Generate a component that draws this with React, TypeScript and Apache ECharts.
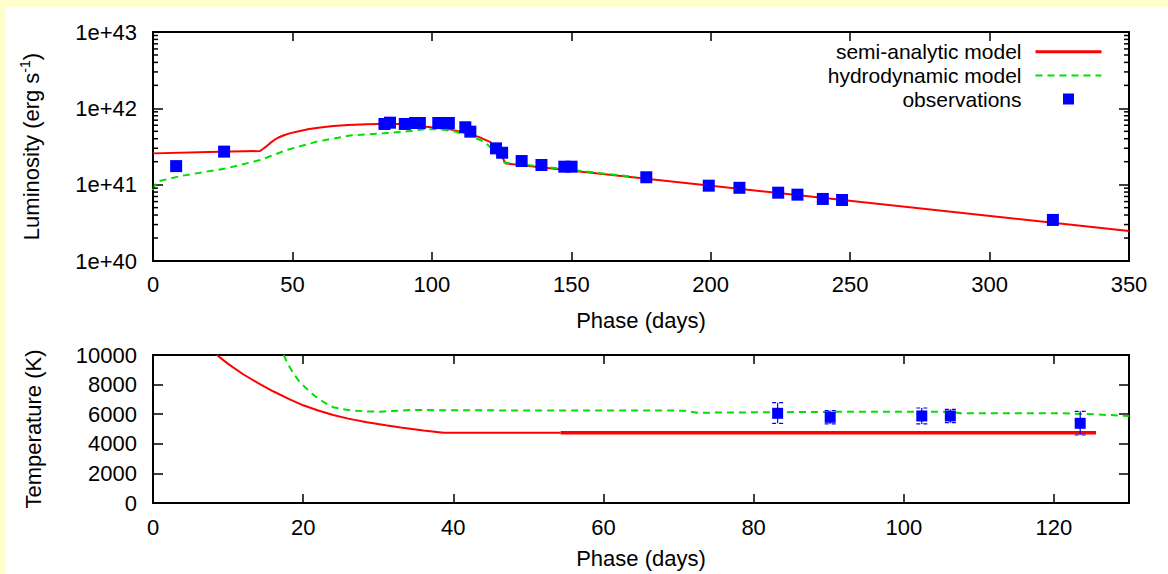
import React, { useEffect, useRef } from "react";
import * as echarts from "echarts";

// ---------- Luminosity panel (top) ----------
const lumObsDays = [8.3, 25.5, 83.0, 85.0, 90.3, 94.0, 95.7, 102.3, 106.1, 112.0, 113.8, 123.0, 125.2, 132.2, 139.3, 147.5, 150.1, 176.9, 199.3, 210.3, 224.2, 231.1, 240.2, 247.1, 322.7];
const lumObsValues = [1.75e41, 2.71e41, 6.24e41, 6.49e41, 6.24e41, 6.43e41, 6.43e41, 6.43e41, 6.43e41, 5.65e41, 4.95e41, 2.99e41, 2.62e41, 2.04e41, 1.81e41, 1.72e41, 1.72e41, 1.25e41, 9.7e40, 9.1e40, 7.85e40, 7.4e40, 6.5e40, 6.3e40, 3.45e40];

const semiLumDays = [0, 20, 38.4, 39.5, 40.8, 42, 43.5, 45, 46.7, 49, 52.7, 56, 60, 64.7, 70, 76.6, 85, 92, 98, 106.5, 112, 117, 121, 123.5, 125.5, 126.5, 350];
const semiLumValues = [2.57e41, 2.67e41, 2.76e41, 2.95e41, 3.2e41, 3.5e41, 3.85e41, 4.15e41, 4.4e41, 4.7e41, 5.05e41, 5.35e41, 5.6e41, 5.85e41, 6.05e41, 6.2e41, 6.3e41, 6.15e41, 5.75e41, 5.3e41, 4.8e41, 4.2e41, 3.6e41, 2.9e41, 2.2e41, 1.9e41, 2.47e40];

const hydroLumDays = [0, 0.8, 1.5, 10, 26.4, 38.4, 48, 58.7, 70.6, 82.6, 90, 98, 103, 108, 112.5, 118.5, 121, 123.5, 126, 140, 160, 173];
const hydroLumValues = [8.5e40, 1.0e41, 1.1e41, 1.3e41, 1.64e41, 2.1e41, 2.85e41, 3.66e41, 4.4e41, 4.7e41, 4.95e41, 5.35e41, 5.3e41, 5.0e41, 4.5e41, 3.7e41, 3.1e41, 2.5e41, 1.95e41, 1.72e41, 1.42e41, 1.26e41];

const lumMinorTicks = [2e40, 3e40, 4e40, 5e40, 6e40, 7e40, 8e40, 9e40, 2e41, 3e41, 4e41, 5e41, 6e41, 7e41, 8e41, 9e41, 2e42, 3e42, 4e42, 5e42, 6e42, 7e42, 8e42, 9e42];

// ---------- Temperature panel (bottom) ----------
const semiTempDays = [8.5, 10, 12, 14, 16, 18, 20, 22, 24, 26, 28.5, 31, 33, 36, 38.7, 54.3];
const semiTempValues = [10000, 9400, 8700, 8100, 7550, 7050, 6600, 6250, 5950, 5700, 5450, 5250, 5100, 4900, 4750, 4750];
const semiTempPlateauDays = [54.3, 125.6];
const semiTempPlateauValues = [4750, 4750];

const hydroTempDays = [17.4, 18, 18.7, 19.5, 20.5, 21.5, 22.3, 23.2, 24, 25.3, 26.7, 28.5, 30.3, 32, 34.3, 50, 66, 70.8, 72.5, 81.4, 94.3, 105.8, 107.6, 121, 125.4, 130];
const hydroTempValues = [10000, 9350, 8760, 8200, 7700, 7250, 6960, 6680, 6470, 6330, 6240, 6190, 6170, 6220, 6280, 6250, 6250, 6240, 6100, 6130, 6170, 6170, 6060, 6060, 5990, 5880];

const tempObsDays = [83.2, 90.2, 102.4, 106.2, 123.5];
const tempObsValues = [6060, 5790, 5880, 5880, 5385];
const tempObsLow = [5385, 5340, 5340, 5425, 4595];
const tempObsHigh = [6777, 6240, 6420, 6330, 6193];

const FONT = '"Liberation Sans", Arial, Helvetica, sans-serif';
const RED = "#ff0000";
const GREEN = "#00e000";
const BLUE = "#0000ff";

const zip = (a: number[], b: number[]) => a.map((x, i) => [x, b[i]]);

export default function App() {
  const ref = useRef<HTMLDivElement>(null);

  useEffect(() => {
    const chart = echarts.init(ref.current as HTMLDivElement, null, { renderer: "svg" });

    const axisLine = { show: true, onZero: false, lineStyle: { color: "#000", width: 2 } };
    const tick = (len: number) => ({ show: true, inside: true, length: len, lineStyle: { color: "#000", width: 1.5 } });
    const labelBase = { color: "#000", fontSize: 22, fontFamily: FONT };
    const nameStyle = { color: "#000", fontSize: 22, fontFamily: FONT };

    const option: any = {
      animation: false,
      backgroundColor: "#ffffff",
      textStyle: { fontFamily: FONT },
      grid: [
        { left: 147, top: 25, width: 976, height: 229 },
        { left: 147, top: 348, width: 976, height: 148 },
      ],
      legend: {
        orient: "vertical",
        right: 65,
        top: 33,
        padding: 0,
        align: "right",
        itemWidth: 66,
        itemHeight: 11,
        itemGap: 0,
        symbolKeepAspect: true,
        textStyle: { color: "#000", fontSize: 21, lineHeight: 23.6, fontFamily: FONT, padding: [0, 9, 0, 0] },
        data: [
          { name: "semi-analytic model", lineStyle: { width: 3 }, itemStyle: { opacity: 0 } },
          { name: "hydrodynamic model", lineStyle: { width: 2 }, itemStyle: { opacity: 0 } },
          { name: "observations", icon: "path://M0,0h10v10h-10z", symbolKeepAspect: true, itemStyle: { color: BLUE, opacity: 1 } },
        ],
      },
      xAxis: [
        {
          gridIndex: 0, type: "value", min: 0, max: 350, interval: 50, position: "bottom",
          axisLine, axisTick: tick(9), splitLine: { show: false },
          axisLabel: { ...labelBase, margin: 12 },
          name: "Phase (days)", nameLocation: "middle", nameGap: 48, nameTextStyle: nameStyle,
        },
        {
          gridIndex: 0, type: "value", min: 0, max: 350, interval: 50, position: "top",
          axisLine, axisTick: tick(9), splitLine: { show: false }, axisLabel: { show: false },
        },
        {
          gridIndex: 1, type: "value", min: 0, max: 130, interval: 20, position: "bottom",
          axisLine, axisTick: tick(9), splitLine: { show: false },
          axisLabel: { ...labelBase, margin: 13, showMaxLabel: false },
          name: "Phase (days)", nameLocation: "middle", nameGap: 44, nameTextStyle: nameStyle,
        },
        {
          gridIndex: 1, type: "value", min: 0, max: 130, interval: 20, position: "top",
          axisLine, axisTick: tick(9), splitLine: { show: false }, axisLabel: { show: false },
        },
      ],
      yAxis: [
        {
          gridIndex: 0, type: "log", logBase: 10, min: 1e40, max: 1e43, position: "left",
          axisLine, axisTick: tick(10), splitLine: { show: false },
          axisLabel: { ...labelBase, margin: 16, formatter: (v: number) => "1e+" + Math.round(Math.log10(v)) },
          name: "{a|Luminosity (erg s}{b|-1}{a|)}", nameLocation: "middle", nameGap: 109,
          nameTextStyle: {
            ...nameStyle,
            rich: {
              a: { fontSize: 22, fontFamily: FONT, color: "#000", lineHeight: 26 },
              b: { fontSize: 14, fontFamily: FONT, color: "#000", lineHeight: 14, verticalAlign: "top" },
            },
          },
        },
        {
          gridIndex: 0, type: "log", logBase: 10, min: 1e40, max: 1e43, position: "right",
          axisLine, axisTick: tick(10), splitLine: { show: false }, axisLabel: { show: false },
        },
        {
          gridIndex: 1, type: "value", min: 0, max: 10000, interval: 2000, position: "left",
          axisLine, axisTick: tick(10), splitLine: { show: false },
          axisLabel: { ...labelBase, margin: 16, formatter: (v: number) => String(v) },
          name: "Temperature (K)", nameLocation: "middle", nameGap: 109, nameTextStyle: nameStyle,
        },
        {
          gridIndex: 1, type: "value", min: 0, max: 10000, interval: 2000, position: "right",
          axisLine, axisTick: tick(10), splitLine: { show: false }, axisLabel: { show: false },
        },
      ],
      series: [
        {
          name: "semi-analytic model", type: "line", xAxisIndex: 0, yAxisIndex: 0,
          data: zip(semiLumDays, semiLumValues), symbol: "none",
          lineStyle: { color: RED, width: 2 }, itemStyle: { color: RED }, z: 2,
        },
        {
          name: "hydrodynamic model", type: "line", xAxisIndex: 0, yAxisIndex: 0,
          data: zip(hydroLumDays, hydroLumValues), symbol: "none",
          lineStyle: { color: GREEN, width: 2, type: [7, 5] }, itemStyle: { color: GREEN }, z: 3,
        },
        {
          name: "observations", type: "scatter", xAxisIndex: 0, yAxisIndex: 0,
          data: zip(lumObsDays, lumObsValues), symbol: "rect", symbolSize: 12, symbolKeepAspect: true,
          itemStyle: { color: BLUE, opacity: 1 }, z: 4,
        },
        {
          name: "minor ticks", type: "custom", xAxisIndex: 0, yAxisIndex: 0, silent: true, z: 5,
          data: lumMinorTicks.map((v) => [0, v]),
          encode: { x: 0, y: 1 },
          renderItem: (params: any, api: any) => {
            const y = api.coord([0, api.value(1)])[1];
            const cs = params.coordSys;
            const style = { stroke: "#000", lineWidth: 1.5 };
            return {
              type: "group",
              children: [
                { type: "line", shape: { x1: cs.x, y1: y, x2: cs.x + 5, y2: y }, style },
                { type: "line", shape: { x1: cs.x + cs.width, y1: y, x2: cs.x + cs.width - 5, y2: y }, style },
              ],
            };
          },
        },
        {
          name: "semi-analytic model", type: "line", xAxisIndex: 2, yAxisIndex: 2,
          data: zip(semiTempDays, semiTempValues), symbol: "none",
          lineStyle: { color: RED, width: 2 }, itemStyle: { color: RED }, z: 2,
        },
        {
          name: "semi-analytic model", type: "line", xAxisIndex: 2, yAxisIndex: 2,
          data: zip(semiTempPlateauDays, semiTempPlateauValues), symbol: "none",
          lineStyle: { color: RED, width: 3.5 }, itemStyle: { color: RED }, z: 2,
        },
        {
          name: "hydrodynamic model", type: "line", xAxisIndex: 2, yAxisIndex: 2,
          data: zip(hydroTempDays, hydroTempValues), symbol: "none",
          lineStyle: { color: GREEN, width: 2, type: [7, 5] }, itemStyle: { color: GREEN }, z: 3,
        },
        {
          name: "observations", type: "custom", xAxisIndex: 2, yAxisIndex: 2, z: 4,
          data: tempObsDays.map((d, i) => [d, tempObsValues[i], tempObsLow[i], tempObsHigh[i]]),
          encode: { x: 0, y: 1 },
          renderItem: (params: any, api: any) => {
            const lo = api.coord([api.value(0), api.value(2)]);
            const hi = api.coord([api.value(0), api.value(3)]);
            const x = lo[0];
            const hw = 5.5;
            const s = { stroke: BLUE, lineWidth: 1.2 };
            const cap = { stroke: BLUE, lineWidth: 1.2, lineDash: [4, 3] };
            return {
              type: "group",
              children: [
                { type: "line", shape: { x1: x, y1: lo[1], x2: x, y2: hi[1] }, style: s },
                { type: "line", shape: { x1: x - hw, y1: lo[1], x2: x + hw, y2: lo[1] }, style: cap },
                { type: "line", shape: { x1: x - hw, y1: hi[1], x2: x + hw, y2: hi[1] }, style: cap },
              ],
            };
          },
        },
        {
          name: "observations", type: "scatter", xAxisIndex: 2, yAxisIndex: 2,
          data: zip(tempObsDays, tempObsValues), symbol: "rect", symbolSize: 11,
          itemStyle: { color: BLUE, opacity: 1 }, z: 5,
        },
      ],
    };

    chart.setOption(option);
    return () => chart.dispose();
  }, []);

  return (
    <div style={{ position: "fixed", left: 0, top: 0, width: 1168, height: 574, background: "#ffffcc", overflow: "hidden" }}>
      <div ref={ref} style={{ position: "absolute", left: 6, top: 7, width: 1162, height: 567, background: "#ffffff" }} />
    </div>
  );
}
